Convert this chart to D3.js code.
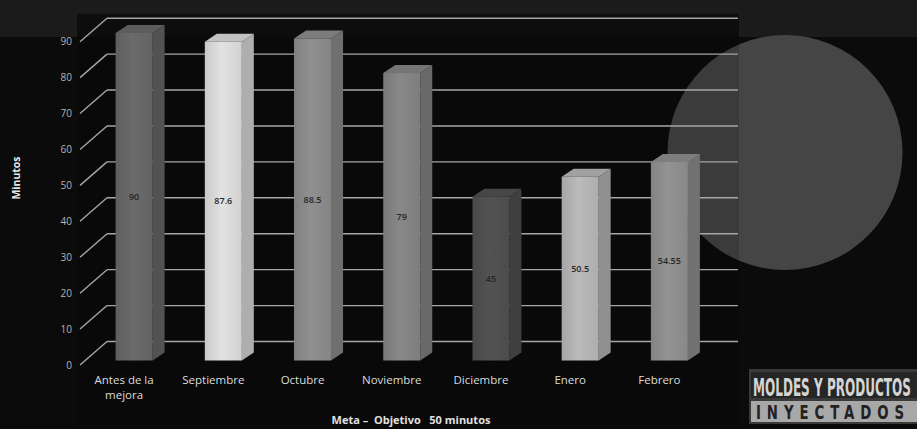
<!DOCTYPE html>
<html><head><meta charset="utf-8">
<script src="https://cdn.jsdelivr.net/npm/d3@7/dist/d3.min.js"></script>
<style>html,body{margin:0;padding:0;background:#0b0b0b;overflow:hidden}svg{display:block}</style>
</head><body>
<svg id="chart" width="917" height="429"></svg>
<script>
const categories = ["Antes de la mejora","Septiembre","Octubre","Noviembre","Diciembre","Enero","Febrero"];
const values = [90, 87.6, 88.5, 79, 45, 50.5, 54.55];
const valueLabels = ["90","87.6","88.5","79","45","50.5","54.55"];
const yTicks = [0,10,20,30,40,50,60,70,80,90];
const yTitle = "Minutos";
const xTitle = "Meta \u2013  Objetivo   50 minutos";
const logoTop = "MOLDES Y PRODUCTOS";
const logoBottom = "INYECTADOS";

const barColors = ["#686868","#dcdcdc","#8c8c8c","#848484","#505050","#b6b6b6","#8f8f8f"];

const svg = d3.select("#chart");
const W = 917, H = 429;
const font = "'Open Sans', 'DejaVu Sans', sans-serif";

// backgrounds
svg.append("rect").attr("width", W).attr("height", H).attr("fill", "#0b0b0b");
svg.append("rect").attr("width", W).attr("height", 37).attr("fill", "#1b1b1b");
svg.append("rect").attr("x", 77).attr("y", 14).attr("width", 662).attr("height", 23).attr("fill", "#0d0d0d");

// decorative circle
svg.append("circle").attr("cx", 785).attr("cy", 152.5).attr("r", 117.5).attr("fill", "#454545");
// translucent plot area over circle
svg.append("rect").attr("x", 77).attr("y", 37).attr("width", 662).attr("height", H - 37)
  .attr("fill", "#000").attr("opacity", 0.14);

// scales
const y = d3.scaleLinear().domain([0, 90]).range([365, 41.7]);      // front plane axis
const yBar = d3.scaleLinear().domain([0, 90]).range([360.5, 33]);   // bars sit slightly behind
const x = d3.scaleBand().domain(categories).range([79.5, 704]).paddingInner(0).paddingOuter(0);

const depthX = 27, depthY = -23.5;   // wall depth
const wallRight = 738;
const gridColor = "#a6a6a6";

// grid: diagonal + back wall lines
const grid = svg.append("g");
yTicks.forEach(t => {
  grid.append("line")
    .attr("x1", 80).attr("y1", y(t)).attr("x2", 80 + depthX).attr("y2", y(t) + depthY)
    .attr("stroke", gridColor).attr("stroke-width", 1.4);
  grid.append("line")
    .attr("x1", 80 + depthX).attr("y1", y(t) + depthY).attr("x2", wallRight).attr("y2", y(t) + depthY)
    .attr("stroke", gridColor).attr("stroke-width", 1.4);
});

// y axis tick labels
const yAxis = d3.axisLeft(y).tickValues(yTicks).tickSize(0).tickPadding(0);
const ga = svg.append("g").attr("transform", "translate(72,0)").call(yAxis);
ga.select(".domain").remove();
ga.selectAll("text").attr("fill", "#b4b4b4").attr("font-family", font).attr("font-size", 10);

// bars
const defs = svg.append("defs");
const bw = 37, bdx = 12, bdy = -8, boff = 10;
const bars = svg.append("g");
categories.forEach((c, i) => {
  const col = d3.color(barColors[i]);
  const gid = "g" + i;
  const lg = defs.append("linearGradient").attr("id", gid).attr("x1", 0).attr("x2", 1).attr("y1", 0).attr("y2", 0);
  lg.append("stop").attr("offset", "0%").attr("stop-color", col.darker(0.25));
  lg.append("stop").attr("offset", "45%").attr("stop-color", col.brighter(0.08));
  lg.append("stop").attr("offset", "100%").attr("stop-color", col.darker(0.15));
  const cx = x(c) + x.bandwidth() / 2 + boff;
  const x0 = cx - bw / 2, x1 = cx + bw / 2;
  const yt = yBar(values[i]), yb = yBar(0);
  bars.append("path")
    .attr("d", `M${x1},${yt} L${x1 + bdx},${yt + bdy} L${x1 + bdx},${yb + bdy} L${x1},${yb} Z`)
    .attr("fill", col.darker(0.65));
  bars.append("path")
    .attr("d", `M${x0},${yt} L${x1},${yt} L${x1 + bdx},${yt + bdy} L${x0 + bdx},${yt + bdy} Z`)
    .attr("fill", col.darker(0.35));
  bars.append("rect").attr("x", x0).attr("y", yt).attr("width", bw).attr("height", yb - yt)
    .attr("fill", `url(#${gid})`);
  bars.append("text").attr("x", cx).attr("y", (yt + yb) / 2).attr("dy", "0.35em")
    .attr("text-anchor", "middle").attr("font-family", font).attr("font-size", 9)
    .attr("font-weight", 600).attr("fill", "#262626").text(valueLabels[i]);
});

// category labels
const catG = svg.append("g");
categories.forEach(c => {
  const cx = x(c) + x.bandwidth() / 2;
  const lines = c === "Antes de la mejora" ? ["Antes de la", "mejora"] : [c];
  const t = catG.append("text").attr("x", cx).attr("y", 384).attr("text-anchor", "middle")
    .attr("font-family", font).attr("font-size", 11.5).attr("fill", "#dcdcdc");
  lines.forEach((l, j) => t.append("tspan").attr("x", cx).attr("dy", j === 0 ? 0 : 14.5).text(l));
});

// axis titles
svg.append("text").attr("transform", "translate(20,178) rotate(-90)").attr("text-anchor", "middle")
  .attr("font-family", font).attr("font-size", 10.5).attr("font-weight", 700).attr("fill", "#e8e8e8")
  .text(yTitle);
svg.append("text").attr("x", 411).attr("y", 424).attr("text-anchor", "middle")
  .attr("font-family", font).attr("font-size", 11).attr("font-weight", 700).attr("fill", "#e0e0e0")
  .attr("xml:space", "preserve").style("white-space", "pre").text(xTitle);

// logo
const logoFont = "'DejaVu Sans Condensed','Liberation Sans Narrow',sans-serif";
const logo = svg.append("g");
logo.append("rect").attr("x", 749).attr("y", 369).attr("width", 170).attr("height", 55).attr("fill", "#3a3a3a");
logo.append("rect").attr("x", 751).attr("y", 372).attr("width", 168).attr("height", 26).attr("fill", "#262626");
logo.append("rect").attr("x", 751).attr("y", 401).attr("width", 168).attr("height", 21).attr("fill", "#a8a8a8");

function fitText(g, str, x0, yBase, size, targetW, fill, spacing) {
  const t = g.append("text").attr("x", 0).attr("y", 0)
    .attr("font-family", logoFont).attr("font-weight", 700).attr("font-size", size)
    .attr("fill", fill).style("letter-spacing", spacing + "px").text(str);
  const w = t.node().getComputedTextLength();
  const s = targetW / w;
  t.attr("transform", `translate(${x0},${yBase}) scale(${s},1)`);
}
fitText(logo, logoTop, 753, 396, 25, 158, "#d4d4d4", 0);
fitText(logo, logoBottom, 756, 419, 20, 154, "#222", 8);
</script>
</body></html>
